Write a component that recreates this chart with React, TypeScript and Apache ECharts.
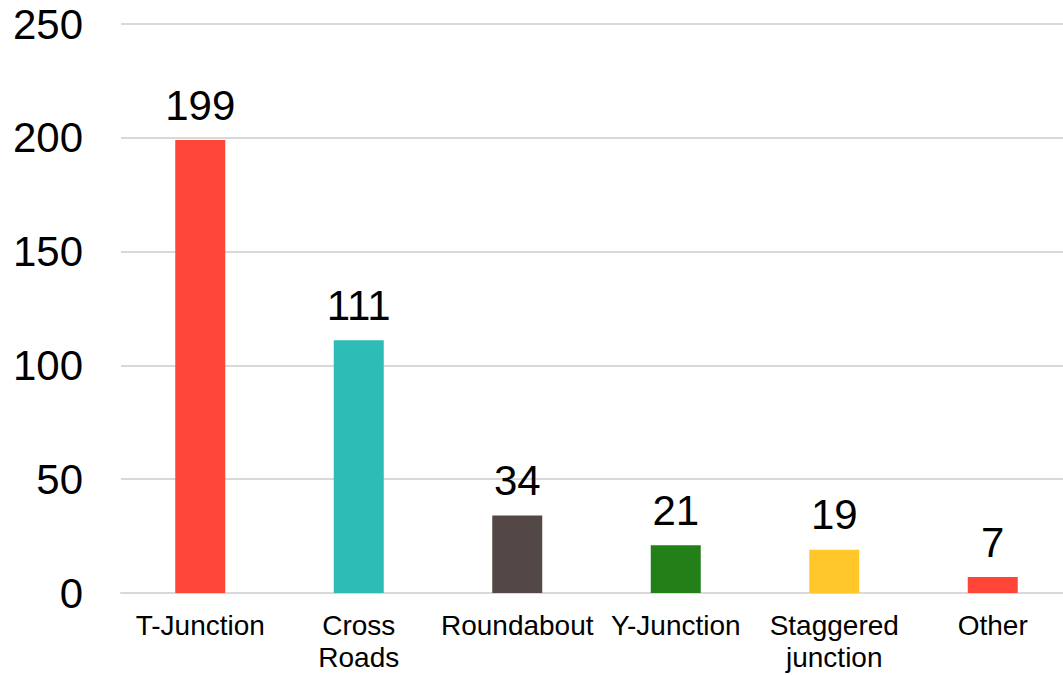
import React, { useEffect, useRef } from "react";
import * as echarts from "echarts";

const categories = ["T-Junction", "Cross\nRoads", "Roundabout", "Y-Junction", "Staggered\njunction", "Other"];
const values = [199, 111, 34, 21, 19, 7];
const colors = ["#FF4538", "#2EBDB6", "#534845", "#237F17", "#FFC72A", "#FF4538"];
const yTicks = { min: 0, max: 250, interval: 50 };

export default function App() {
  const ref = useRef<HTMLDivElement>(null);
  useEffect(() => {
    if (!ref.current) return;
    const chart = echarts.init(ref.current, null, { renderer: "svg" });
    chart.setOption({
      animation: false,
      grid: { left: 121, top: 24, width: 951, height: 569, containLabel: false },
      xAxis: {
        type: "category",
        data: categories,
        axisTick: { show: false },
        axisLine: { lineStyle: { color: "#d9d9d9", width: 2 } },
        axisLabel: {
          color: "#000",
          fontFamily: "Liberation Sans, Arial, sans-serif",
          fontSize: 28,
          lineHeight: 32,
          margin: 16,
          interval: 0,
        },
      },
      yAxis: {
        type: "value",
        min: yTicks.min,
        max: yTicks.max,
        interval: yTicks.interval,
        axisLine: { show: false },
        axisTick: { show: false },
        splitLine: { lineStyle: { color: "#d9d9d9", width: 2 } },
        axisLabel: {
          color: "#000",
          fontFamily: "Liberation Sans, Arial, sans-serif",
          fontSize: 42,
          margin: 38,
        },
      },
      series: [
        {
          type: "bar",
          barWidth: 50,
          data: values.map((v, i) => ({ value: v, itemStyle: { color: colors[i] } })),
          label: {
            show: true,
            position: "top",
            distance: 14,
            color: "#000",
            fontFamily: "Liberation Sans, Arial, sans-serif",
            fontSize: 42,
          },
        },
      ],
    });
    return () => chart.dispose();
  }, []);
  return (
    <div
      ref={ref}
      style={{ position: "fixed", left: 0, top: 0, width: 1080, height: 675, background: "#fff" }}
    />
  );
}
